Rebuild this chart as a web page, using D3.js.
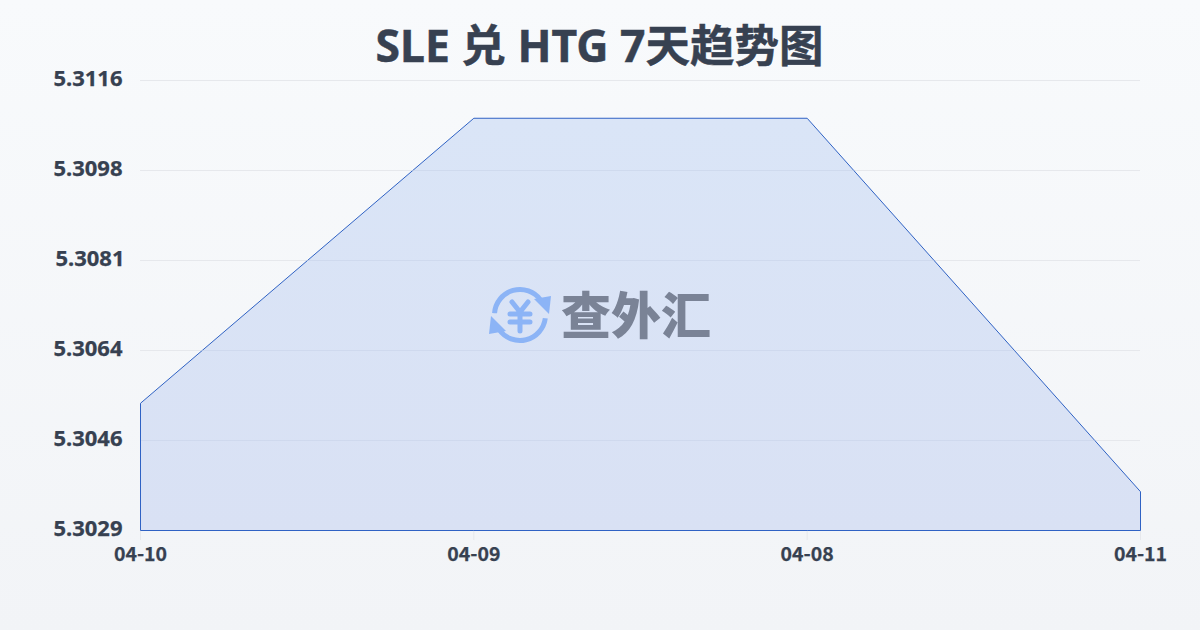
<!DOCTYPE html>
<html><head><meta charset="utf-8">
<script src="https://cdn.jsdelivr.net/npm/d3@7/dist/d3.min.js"></script>
<style>html,body{margin:0;padding:0;background:#f8fafc}svg{display:block}</style>
</head><body><div id="c"></div>
<script>
const titleText = "SLE 兑 HTG 7天趋势图";
const categories = ["04-10","04-09","04-08","04-11"];
const values = [5.30536,5.31087,5.31087,5.30365];
const yTickLabels = ["5.3029","5.3046","5.3064","5.3081","5.3098","5.3116"];
const yDomain = [5.3029,5.3116];
const watermarkText = "查外汇";

const W=1200,H=630,m={l:140,r:1140,t:80,b:530};
const font='"Noto Sans","Noto Sans CJK SC",sans-serif';
const svg=d3.select("#c").append("svg").attr("width",W).attr("height",H);
const defs=svg.append("defs");
const bg=defs.append("linearGradient").attr("id","bg").attr("x1",0).attr("y1",0).attr("x2",0).attr("y2",1);
bg.append("stop").attr("offset",0).attr("stop-color","#f8fafc");
bg.append("stop").attr("offset",1).attr("stop-color","#f2f4f7");
const af=defs.append("linearGradient").attr("id","af").attr("x1",0).attr("y1",0).attr("x2",0).attr("y2",1);
af.append("stop").attr("offset",0).attr("stop-color","#dae5f7");
af.append("stop").attr("offset",1).attr("stop-color","#d9e1f4");
svg.append("rect").attr("width",W).attr("height",H).attr("fill","url(#bg)");

const x=d3.scalePoint().domain(categories).range([m.l,m.r]);
const y=d3.scaleLinear().domain(yDomain).range([m.b,m.t]);
const yT=d3.scalePoint().domain(yTickLabels).range([m.b,m.t]);

svg.append("text").attr("x",599.5).attr("y",61.5).attr("text-anchor","middle")
 .attr("font-family",font).attr("font-weight",700).attr("font-size",44.5).attr("fill","#374151")
 .attr("stroke","#374151").attr("stroke-width",.5).text(titleText);

svg.append("g").selectAll("line").data(yTickLabels).join("line")
 .attr("x1",m.l).attr("x2",m.r).attr("y1",d=>yT(d)+.5).attr("y2",d=>yT(d)+.5)
 .attr("stroke","#e6e8ec").attr("stroke-width",1);
svg.append("g").selectAll("line").data(categories).join("line")
 .attr("x1",d=>x(d)+.5).attr("x2",d=>x(d)+.5).attr("y1",m.b).attr("y2",m.b+10)
 .attr("stroke","#e6e8ec");

const area=d3.area().x((d,i)=>x(categories[i])).y0(m.b).y1(d=>y(d));
const g=svg.append("g").attr("transform","translate(.5,.5)");
g.append("path").datum(values).attr("d",area).attr("fill","url(#af)").attr("stroke","#2f62c4").attr("stroke-width",1);
const clip=defs.append("clipPath").attr("id","inner").append("path").datum(values).attr("d",area);
svg.append("g").attr("clip-path","url(#inner)").selectAll("line").data(yTickLabels.slice(1)).join("line")
 .attr("x1",m.l+1).attr("x2",m.r).attr("y1",d=>yT(d)+.5).attr("y2",d=>yT(d)+.5)
 .attr("stroke","#c6d1e8").attr("stroke-opacity",0.55);

svg.append("g").selectAll("text").data(yTickLabels).join("text")
 .attr("x",d=>d==="5.3081"?124.5:122.5).attr("y",d=>yT(d)+5.5).attr("text-anchor","end")
 .attr("font-family",font).attr("font-weight",700).attr("font-size",22).attr("fill","#374151")
 .attr("stroke","#374151").attr("stroke-width",.25).text(d=>d);
svg.append("g").selectAll("text").data(categories).join("text")
 .attr("x",d=>x(d)+.5).attr("y",561).attr("text-anchor","middle")
 .attr("font-family",'"Noto Sans CJK SC"').attr("font-weight",700).attr("font-size",19.5).attr("fill","#374151")
 .attr("stroke","#374151").attr("stroke-width",.25).text(d=>d);

// watermark
const wm=svg.append("g");
const ic=wm.append("g").attr("transform","translate(520,315)").attr("fill","none").attr("stroke","#8cb4f6").attr("stroke-width",5);
const arc=d3.arc().innerRadius(25.5).outerRadius(25.5);
ic.append("path").attr("d",arc({startAngle:-1.5,endAngle:0.95}));
ic.append("path").attr("d",arc({startAngle:1.7,endAngle:4.1}));
ic.append("path").attr("d","M-8,-13L0,-3L8,-13M-10,-1H10M-10,7H10M0,-3V16").attr("stroke-linecap","round");
ic.append("path").attr("d","M14,-16L31,-19L29,-1Z").attr("fill","#8cb4f6").attr("stroke","none");
ic.append("path").attr("d","M-14,16L-31,19L-29,1Z").attr("fill","#8cb4f6").attr("stroke","none");
wm.append("text").attr("x",636).attr("y",334).attr("text-anchor","middle")
 .attr("font-family",'"Noto Sans CJK SC"').attr("font-weight",900).attr("font-size",50).attr("fill","#7a8396").text(watermarkText);
</script></body></html>
